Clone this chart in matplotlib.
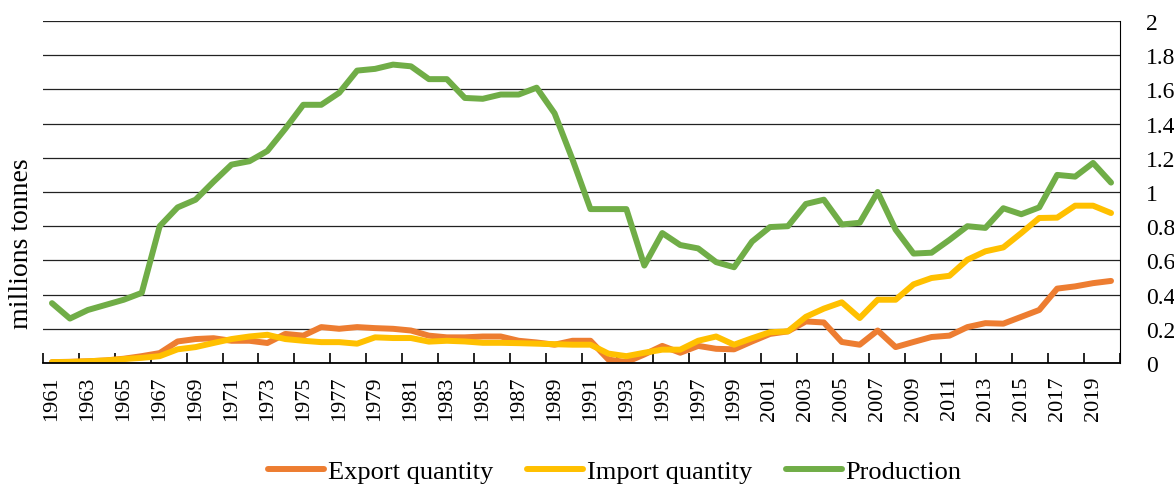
import matplotlib

matplotlib.use("Agg")
import matplotlib.pyplot as plt
from matplotlib.ticker import FixedLocator, NullFormatter

plt.rcParams["font.family"] = ["Liberation Serif", "DejaVu Serif"]

years = list(range(1961, 2021))

export_qty = [
    0.005, 0.007, 0.010, 0.015, 0.025, 0.040, 0.058, 0.126, 0.140, 0.145,
    0.130, 0.130, 0.117, 0.170, 0.160, 0.210, 0.200, 0.210, 0.204, 0.200,
    0.190, 0.160, 0.150, 0.150, 0.155, 0.155, 0.130, 0.120, 0.107, 0.130,
    0.130, 0.020, 0.005, 0.050, 0.100, 0.060, 0.100, 0.083, 0.080, 0.126,
    0.170, 0.185, 0.243, 0.237, 0.123, 0.107, 0.190, 0.093, 0.123, 0.152,
    0.160, 0.210, 0.233, 0.230, 0.270, 0.310, 0.435, 0.448, 0.467, 0.480,
]
import_qty = [
    0.005, 0.006, 0.010, 0.015, 0.023, 0.030, 0.040, 0.080, 0.093, 0.117,
    0.140, 0.155, 0.165, 0.140, 0.130, 0.122, 0.122, 0.113, 0.150, 0.146,
    0.146, 0.125, 0.130, 0.126, 0.118, 0.118, 0.116, 0.113, 0.110, 0.107,
    0.107, 0.055, 0.040, 0.060, 0.078, 0.078, 0.130, 0.155, 0.107, 0.145,
    0.180, 0.185, 0.270, 0.318, 0.355, 0.263, 0.370, 0.370, 0.460, 0.497,
    0.510, 0.604, 0.653, 0.676, 0.760, 0.848, 0.850, 0.920, 0.920, 0.877,
]
production = [
    0.350, 0.260, 0.310, 0.340, 0.370, 0.410, 0.800, 0.910, 0.955, 1.060,
    1.160, 1.180, 1.240, 1.370, 1.510, 1.510, 1.580, 1.710, 1.720, 1.745,
    1.735, 1.660, 1.660, 1.550, 1.545, 1.570, 1.570, 1.610, 1.460, 1.190,
    0.900, 0.900, 0.900, 0.570, 0.760, 0.690, 0.670, 0.590, 0.560, 0.710,
    0.795, 0.800, 0.930, 0.955, 0.810, 0.820, 1.000, 0.780, 0.640, 0.645,
    0.720, 0.800, 0.790, 0.905, 0.870, 0.910, 1.100, 1.090, 1.170, 1.055,
]

series = [
    ("Export quantity", export_qty, "#ED7D31"),
    ("Import quantity", import_qty, "#FFC000"),
    ("Production", production, "#70AD47"),
]

fig = plt.figure(figsize=(11.74, 4.89), dpi=100)
ax = fig.add_axes([43 / 1174, 1 - 364 / 489, (1120 - 43) / 1174, (364 - 22) / 489])

for name, vals, col in series:
    ax.plot(years, vals, color=col, lw=4.3, label=name,
            solid_capstyle="round", solid_joinstyle="round")

ax.set_xlim(1960.5, 2020.5)
ax.set_ylim(0, 2)

# y axis on the right, no tick marks
ax.yaxis.tick_right()
ax.set_yticks([i * 0.2 for i in range(11)])
ax.set_yticklabels(["0", "0.2", "0.4", "0.6", "0.8", "1", "1.2", "1.4",
                    "1.6", "1.8", "2"])
ax.tick_params(axis="y", length=0, pad=19, labelsize=17)
ax.yaxis.grid(True, color="#222222", lw=0.9)

# x labels every 2 years, tick marks between categories
ax.set_xticks(years[::2])
ax.set_xticklabels([str(y) for y in years[::2]], rotation=90)
ax.tick_params(axis="x", which="major", length=0, pad=9, labelsize=16)
ax.xaxis.set_minor_locator(FixedLocator([1960.5 + 2 * k for k in range(31)]))
ax.xaxis.set_minor_formatter(NullFormatter())
ax.tick_params(axis="x", which="minor", direction="in", length=7,
               width=1.2, color="black")

for s in ("left", "top"):
    ax.spines[s].set_visible(False)
ax.spines["right"].set_color("black")
ax.spines["bottom"].set_color("black")
ax.spines["bottom"].set_linewidth(1.3)
ax.set_axisbelow(True)

fig.text(22 / 1174, 0.501, "millions tonnes", rotation=90,
         ha="center", va="center", fontsize=20)

fig.legend(loc="center", bbox_to_anchor=(615 / 1174, 1 - 472 / 489),
           ncol=3, frameon=False, fontsize=19, handlelength=2.1,
           handletextpad=0.15, columnspacing=1.3)

fig.savefig("out.png", dpi=100)
